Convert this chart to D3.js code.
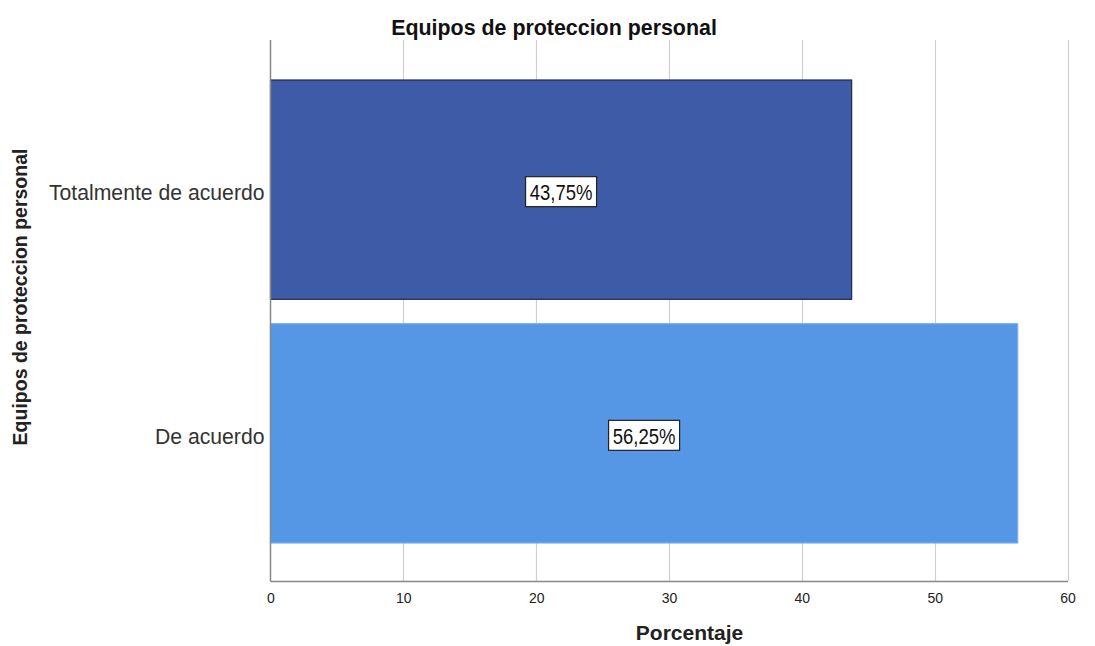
<!DOCTYPE html>
<html><head><meta charset="utf-8">
<script src="https://cdn.jsdelivr.net/npm/d3@7"></script>
<style>body{margin:0;background:#fff}text{font-family:Arial,"Liberation Sans",sans-serif}</style>
</head><body>
<svg id="c" width="1095" height="646"></svg>
<script>
const categories = ["Totalmente de acuerdo", "De acuerdo"];
const values = [43.75, 56.25];
const valueLabels = ["43,75%", "56,25%"];
const colors = ["#3e5ba8", "#5596e5"];
const strokes = ["#1f2a44", "#7aaef0"];
const xTicks = [0, 10, 20, 30, 40, 50, 60];
const title = "Equipos de proteccion personal";
const xTitle = "Porcentaje";
const yTitle = "Equipos de proteccion personal";

const svg = d3.select("#c");
const L = 270.5, R = 1067.5, T = 40, B = 581;
const x = d3.scaleLinear().domain([0, 60]).range([L, R]);
const y = d3.scaleBand().domain(categories).range([80, 543]).paddingInner(0.1).paddingOuter(0);

// grid
svg.append("g").selectAll("line").data(xTicks.slice(1)).join("line")
  .attr("x1", d => Math.round(x(d)) + 0.5).attr("x2", d => Math.round(x(d)) + 0.5)
  .attr("y1", T).attr("y2", B).attr("stroke", "#d0d0d0").attr("stroke-width", 1.2);

// bars
svg.append("g").selectAll("rect").data(values).join("rect")
  .attr("x", x(0)).attr("y", (d, i) => y(categories[i]))
  .attr("width", d => x(d) - x(0)).attr("height", y.bandwidth())
  .attr("fill", (d, i) => colors[i]).attr("stroke", (d, i) => strokes[i]).attr("stroke-width", 1.2);

// axes
const xa = svg.append("g").attr("transform", `translate(0,${B})`)
  .call(d3.axisBottom(x).tickValues(xTicks).tickSize(0).tickPadding(12).tickFormat(d3.format("d")));
xa.select(".domain").attr("stroke", "#888").attr("stroke-width", 1.5);
xa.selectAll("text").attr("font-size", 14).attr("fill", "#222");
svg.append("line").attr("x1", L).attr("x2", L).attr("y1", T).attr("y2", B + 0.75)
  .attr("stroke", "#888").attr("stroke-width", 1.5);

const ya = svg.append("g").attr("transform", `translate(${L - 6},0)`)
  .call(d3.axisLeft(y).tickSize(0).tickPadding(0));
ya.select(".domain").remove();
ya.selectAll("text").attr("font-size", 21.2).attr("fill", "#333").attr("dy", null).attr("y", 10.5);

// value labels
const lab = svg.append("g").selectAll("g").data(values).join("g")
  .attr("transform", (d, i) => `translate(${(x(0) + x(d)) / 2},${y(categories[i]) + y.bandwidth() / 2 + 10.5})`);
lab.append("text").attr("text-anchor", "middle").attr("font-size", 18.5).attr("fill", "#111")
  .attr("transform", "scale(1,1.2)")
  .text((d, i) => valueLabels[i]);
lab.insert("rect", "text").attr("x", -35.5).attr("y", -23.5).attr("width", 71).attr("height", 30)
  .attr("fill", "#fff").attr("stroke", "#222").attr("stroke-width", 1.2);

// titles
svg.append("text").attr("x", 554).attr("y", 35).attr("text-anchor", "middle")
  .attr("font-size", 21.4).attr("font-weight", "bold").attr("fill", "#111").text(title);
svg.append("text").attr("x", 689.5).attr("y", 640).attr("text-anchor", "middle")
  .attr("font-size", 21).attr("font-weight", "bold").attr("fill", "#222").text(xTitle);
svg.append("text").attr("transform", "translate(27,297) rotate(-90)").attr("text-anchor", "middle")
  .attr("font-size", 19.5).attr("font-weight", "bold").attr("fill", "#222").text(yTitle);
</script>
</body></html>
